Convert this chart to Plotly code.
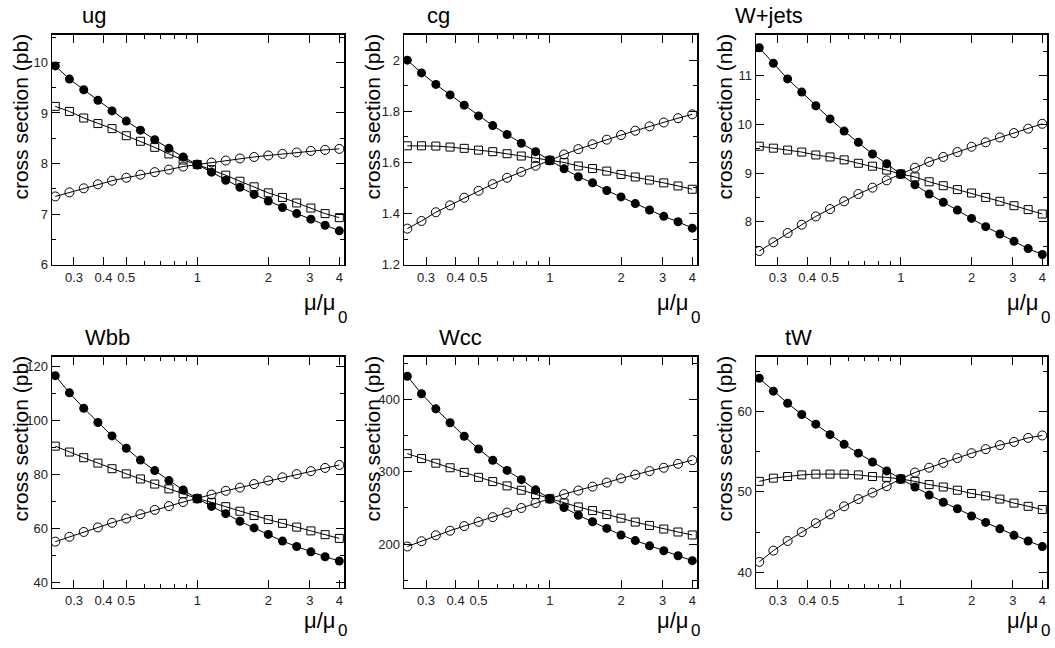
import plotly.graph_objects as go

# ---------------- data ----------------
mu = [0.25, 0.287, 0.330, 0.379, 0.435, 0.5, 0.574, 0.660, 0.758, 0.871, 1.0,
      1.149, 1.320, 1.516, 1.741, 2.0, 2.297, 2.639, 3.031, 3.482, 4.0]

ug_filled = [9.93, 9.67, 9.46, 9.25, 9.04, 8.84, 8.66, 8.47, 8.30, 8.13, 7.98, 7.83, 7.67, 7.53, 7.39, 7.26, 7.13, 7.01, 6.90, 6.78, 6.67]
ug_square = [9.13, 9.03, 8.90, 8.79, 8.69, 8.55, 8.44, 8.32, 8.19, 8.07, 7.98, 7.88, 7.77, 7.65, 7.54, 7.42, 7.33, 7.22, 7.12, 7.01, 6.93]
ug_open = [7.35, 7.43, 7.51, 7.59, 7.66, 7.72, 7.78, 7.83, 7.88, 7.94, 7.98, 8.02, 8.06, 8.10, 8.13, 8.16, 8.19, 8.22, 8.25, 8.27, 8.29]

cg_filled = [2.00, 1.95, 1.905, 1.864, 1.824, 1.782, 1.744, 1.709, 1.675, 1.642, 1.608, 1.575, 1.544, 1.520, 1.490, 1.465, 1.439, 1.414, 1.389, 1.368, 1.343]
cg_square = [1.665, 1.665, 1.664, 1.660, 1.655, 1.648, 1.642, 1.634, 1.625, 1.616, 1.608, 1.600, 1.586, 1.576, 1.566, 1.553, 1.543, 1.531, 1.520, 1.508, 1.495]
cg_open = [1.341, 1.371, 1.405, 1.432, 1.462, 1.489, 1.515, 1.540, 1.563, 1.587, 1.608, 1.631, 1.652, 1.671, 1.689, 1.707, 1.724, 1.741, 1.756, 1.773, 1.788]

wj_filled = [11.57, 11.25, 10.93, 10.66, 10.38, 10.11, 9.86, 9.63, 9.39, 9.19, 8.98, 8.76, 8.57, 8.40, 8.24, 8.07, 7.90, 7.75, 7.60, 7.45, 7.33]
wj_square = [9.55, 9.51, 9.47, 9.43, 9.37, 9.33, 9.27, 9.20, 9.14, 9.06, 8.98, 8.92, 8.82, 8.74, 8.66, 8.59, 8.50, 8.42, 8.33, 8.25, 8.16]
wj_open = [7.40, 7.58, 7.77, 7.94, 8.11, 8.26, 8.42, 8.57, 8.70, 8.85, 8.98, 9.11, 9.23, 9.33, 9.43, 9.54, 9.63, 9.73, 9.82, 9.91, 10.01]

wbb_filled = [116.7, 110.3, 104.6, 99.3, 94.3, 89.7, 85.3, 81.4, 77.7, 74.2, 71.0, 68.1, 65.4, 62.6, 60.1, 57.7, 55.2, 53.2, 51.2, 49.4, 47.8]
wbb_square = [90.5, 88.3, 86.2, 84.2, 82.1, 80.2, 78.3, 76.4, 74.6, 72.8, 71.0, 69.6, 68.0, 66.3, 64.7, 63.2, 61.8, 60.4, 59.0, 57.6, 56.2]
wbb_open = [55.0, 56.8, 58.6, 60.3, 62.0, 63.6, 65.2, 66.8, 68.2, 69.7, 71.0, 72.5, 73.9, 75.1, 76.4, 77.7, 78.9, 80.1, 81.2, 82.4, 83.5]

wcc_filled = [431.8, 407.7, 386.8, 367.7, 349.0, 331.4, 315.9, 301.8, 289.1, 275.0, 262.7, 250.5, 240.0, 230.9, 221.8, 212.7, 205.0, 197.7, 190.9, 184.1, 177.3]
wcc_square = [325.0, 318.2, 311.8, 305.5, 299.1, 292.3, 286.4, 280.5, 274.5, 268.6, 262.7, 256.8, 251.4, 246.4, 240.9, 235.9, 230.5, 225.9, 220.9, 216.8, 212.7]
wcc_open = [196.8, 204.1, 212.3, 218.6, 225.0, 230.9, 237.3, 243.6, 250.0, 256.8, 262.7, 269.1, 274.1, 279.5, 285.0, 290.9, 295.9, 300.9, 305.5, 310.9, 315.9]

tw_filled = [64.1, 62.5, 61.0, 59.6, 58.4, 57.1, 55.9, 54.8, 53.7, 52.6, 51.6, 50.6, 49.6, 48.7, 47.9, 47.0, 46.2, 45.4, 44.6, 43.9, 43.2]
tw_square = [51.3, 51.7, 51.9, 52.1, 52.2, 52.2, 52.2, 52.1, 51.9, 51.8, 51.6, 51.3, 50.9, 50.6, 50.2, 49.8, 49.5, 49.1, 48.6, 48.2, 47.8]
tw_open = [41.3, 42.7, 43.9, 45.0, 46.1, 47.2, 48.2, 49.1, 49.9, 50.7, 51.6, 52.4, 53.0, 53.6, 54.2, 54.8, 55.3, 55.8, 56.2, 56.7, 57.0]

titles = ["ug", "cg", "W+jets", "Wbb", "Wcc", "tW"]
units = ["pb", "pb", "nb", "pb", "pb", "pb"]
x_tickvals = [0.3, 0.4, 0.5, 1, 2, 3, 4]
x_ticktext = ["0.3", "0.4", "0.5", "1", "2", "3", "4"]
x_minor = [0.6, 0.7, 0.8, 0.9]

panels = [
    (ug_filled, ug_square, ug_open),
    (cg_filled, cg_square, cg_open),
    (wj_filled, wj_square, wj_open),
    (wbb_filled, wbb_square, wbb_open),
    (wcc_filled, wcc_square, wcc_open),
    (tw_filled, tw_square, tw_open),
]

# ---------------- layout geometry (screen pixels) ----------------
W, H = 1055, 648
col_px = [(52, 344), (404, 697), (756, 1047)]
row_px = [(35, 268), (361, 595)]
y_ranges = [(6, 10.55), (1.2, 2.1), (7.12, 11.84), (37.9, 123.8), (140, 459), (38.1, 66.8)]
y_dtick = [1, 0.2, 1, 20, 100, 10]
title_x = [80, 425, 733, 83, 437, 783]
xt_mu_y = [306, 628]       # centre of "μ/μ" per row
xt_0_y = [321, 638]        # centre of subscript 0 per row


def px(x):
    return x / W


def py(y):
    return 1 - y / H


FONT = "Liberation Sans, Arial, Helvetica, sans-serif"

fig = go.Figure()
annotations = []
layout = dict(
    width=W, height=H, autosize=False,
    margin=dict(l=0, r=0, t=0, b=0),
    paper_bgcolor="white", plot_bgcolor="white",
    showlegend=False,
    font=dict(family=FONT, color="black"),
)

for i, (filled, square, opened) in enumerate(panels):
    r, c = divmod(i, 3)
    n = i + 1
    xa = "x" if n == 1 else f"x{n}"
    ya = "y" if n == 1 else f"y{n}"
    x0, x1 = col_px[c]
    y0, y1 = row_px[r]

    common = dict(x=mu, xaxis=xa, yaxis=ya, mode="lines+markers",
                  line=dict(color="black", width=1), hoverinfo="skip")
    fig.add_trace(go.Scatter(y=opened, marker=dict(symbol="circle-open", size=9,
                             color="black", line=dict(width=1, color="black")), **common))
    fig.add_trace(go.Scatter(y=square, marker=dict(symbol="square-open", size=8,
                             color="black", line=dict(width=1, color="black")), **common))
    fig.add_trace(go.Scatter(y=filled, marker=dict(symbol="circle", size=9,
                             color="black"), **common))

    axkey = "xaxis" if n == 1 else f"xaxis{n}"
    aykey = "yaxis" if n == 1 else f"yaxis{n}"
    layout[axkey] = dict(
        type="log", domain=[px(x0), px(x1)], anchor=ya,
        range=[-0.616, 0.622],
        tickmode="array", tickvals=x_tickvals, ticktext=x_ticktext,
        ticks="inside", ticklen=8, tickwidth=1, tickcolor="black",
        minor=dict(tickmode="array", tickvals=x_minor, ticks="inside",
                   ticklen=4, tickwidth=1, tickcolor="black", showgrid=False),
        showline=True, linecolor="black", linewidth=1.5, mirror="allticks",
        showgrid=False, zeroline=False,
        tickfont=dict(size=13, family=FONT, color="#222"),
    )
    lo, hi = y_ranges[i]
    d = y_dtick[i]
    layout[aykey] = dict(
        domain=[py(y1), py(y0)], anchor=xa,
        range=[lo, hi],
        tickmode="linear", tick0=0, dtick=d,
        ticks="inside", ticklen=8, tickwidth=1, tickcolor="black",
        minor=dict(tickmode="linear", tick0=0, dtick=d / 2, ticks="inside",
                   ticklen=4, tickwidth=1, tickcolor="black", showgrid=False),
        showline=True, linecolor="black", linewidth=1.5, mirror="allticks",
        showgrid=False, zeroline=False,
        tickfont=dict(size=13, family=FONT, color="#222"),
    )

    # panel title
    annotations.append(dict(
        text=titles[i], xref="paper", yref="paper",
        x=px(title_x[i]), y=py(y0 - 19), xanchor="left", yanchor="middle",
        showarrow=False, font=dict(size=22, family=FONT, color="black"),
    ))
    # y-axis title
    annotations.append(dict(
        text=f"cross section ({units[i]})", xref="paper", yref="paper",
        x=px(x0 - 31), y=py(y0 - 3), xanchor="center", yanchor="top",
        textangle=-90, showarrow=False,
        font=dict(size=21, family=FONT, color="black"),
    ))
    # x-axis title: "μ/μ" with a lowered "0"
    annotations.append(dict(
        text="μ/μ", xref="paper", yref="paper",
        x=px(x1 - 7), y=py(xt_mu_y[r]), xanchor="right", yanchor="middle",
        showarrow=False, font=dict(size=22, family=FONT, color="black"),
    ))
    annotations.append(dict(
        text="0", xref="paper", yref="paper",
        x=px(x1 - 8), y=py(xt_0_y[r]), xanchor="left", yanchor="middle",
        showarrow=False, font=dict(size=17, family=FONT, color="black"),
    ))

layout["annotations"] = annotations
fig.update_layout(**layout)
fig.write_html(
    "out.html",
    config={"displayModeBar": False, "staticPlot": True},
    post_script="document.body.style.margin='0';document.body.style.overflow='hidden';",
)
